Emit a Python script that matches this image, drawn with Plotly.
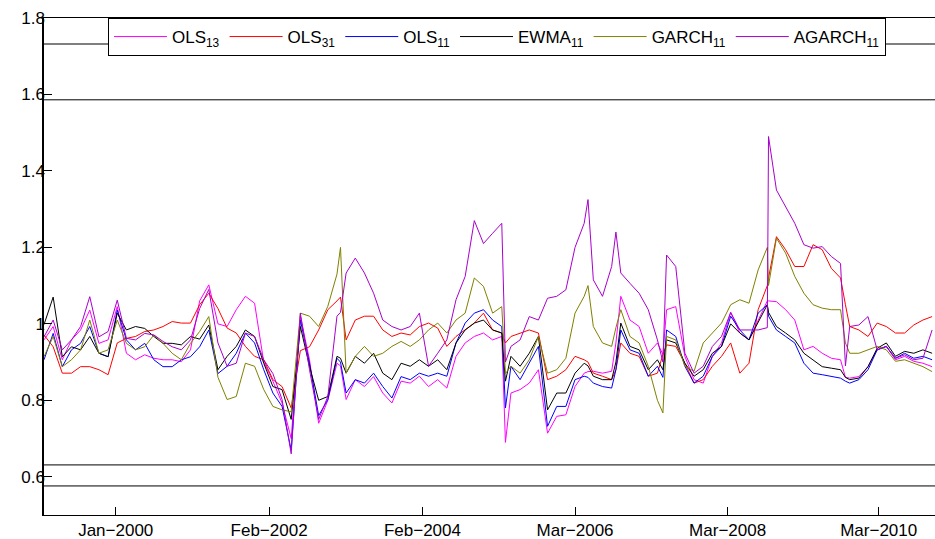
import plotly.graph_objects as go

# observation index (weekly observations)
obs = [0, 6, 12, 18, 24, 30, 36, 42, 48, 54, 60, 66, 72, 78, 84, 90, 96, 102, 108, 114,
       120, 126, 132, 138, 144, 150, 156, 162, 168, 174, 180, 186, 192, 194.3,
       198, 204, 210, 216, 222, 228, 234, 240, 246, 252, 258, 264, 270, 276, 282, 288, 294, 300, 302.4,
       306, 312, 318, 324, 330, 336, 342, 348, 354, 356.5,
       360, 366, 372, 374.8,
       378, 384, 390, 396, 402, 405.6,
       408, 414, 420, 426, 432, 438, 444, 450, 456, 462, 468, 474, 474.8,
       480, 486, 492, 498, 504, 510, 516, 522, 525.2,
       528, 534, 540, 546, 552, 558, 564, 570, 576, 582]

ols13 = [0.958, 0.993, 0.906, 0.958, 0.984, 1.036, 0.949, 0.958, 1.045, 0.923,
         0.906, 0.919, 0.91, 0.906, 0.906, 0.901, 0.932, 1.06, 1.102, 1.0,
         0.993, 1.037, 1.072, 1.054, 0.9, 0.85, 0.793, 0.70, 1.02, 0.906,
         0.74, 0.80, 0.897, 0.89,
         0.802, 0.854, 0.836, 0.862, 0.819, 0.793, 0.85,
         0.845, 0.863, 0.836, 0.854, 0.832, 0.915, 0.95, 0.967, 0.976, 0.958, 0.967, 0.69,
         0.819, 0.828, 0.845, 0.88, 0.714, 0.758, 0.762, 0.836, 0.871, 0.875,
         0.876, 0.871, 0.876, 0.95,
         1.072, 1.01, 0.993, 0.923, 0.95, 0.92,
         1.037, 1.045, 0.915, 0.854, 0.845, 0.915, 0.95, 1.03, 0.976, 0.958, 1.01, 1.06, 1.06,
         1.058, 1.037, 1.01, 0.932, 0.941, 0.923, 0.91, 0.906, 0.86,
         0.858, 0.862, 0.888, 0.932, 0.941, 0.906, 0.915, 0.902, 0.897, 0.888]

ols31 = [0.971, 0.94, 0.871, 0.871, 0.888, 0.888, 0.88, 0.867, 0.95, 0.962,
         0.967, 0.98, 0.984, 0.993, 1.006, 1.002, 1.002, 1.05, 1.08, 1.04,
         0.989, 0.976, 0.941, 0.915, 0.906, 0.854, 0.836, 0.78, 0.93, 0.94,
         0.984, 1.037, 1.06, 1.07,
         0.958, 1.01, 1.02, 1.02, 0.984, 0.967, 0.976,
         0.971, 0.993, 1.002, 0.989, 0.941, 0.967, 0.984, 1.002, 1.028, 0.984, 0.976, 0.95,
         0.967, 0.976, 0.984, 0.976, 0.854, 0.863, 0.88, 0.915, 0.906, 0.9,
         0.871, 0.863, 0.854, 0.88,
         0.95, 0.923, 0.915, 0.863, 0.871, 0.92,
         0.945, 0.941, 0.897, 0.845, 0.854, 0.889, 0.915, 0.95, 0.871, 0.897, 1.037, 1.1, 1.12,
         1.228, 1.194, 1.15, 1.15, 1.207, 1.194, 1.145, 1.12, 1.05,
         0.993, 0.984, 0.967, 1.002, 0.993, 0.976, 0.976, 0.997, 1.01, 1.019]

ols11 = [0.906, 0.975, 0.888, 0.932, 0.949, 0.993, 0.923, 0.914, 1.036, 0.958,
         0.932, 0.949, 0.906, 0.888, 0.888, 0.906, 0.914, 0.94, 0.984, 0.87,
         0.889, 0.923, 0.976, 0.95, 0.88, 0.819, 0.784, 0.67, 1.01, 0.897,
         0.76, 0.802, 0.91, 0.9,
         0.819, 0.854, 0.845, 0.871, 0.836, 0.806, 0.862,
         0.854, 0.871, 0.863, 0.871, 0.863, 0.95, 1.002, 1.028, 1.037, 1.01, 0.993, 0.78,
         0.889, 0.854, 0.897, 0.941, 0.732, 0.784, 0.784, 0.854, 0.863, 0.86,
         0.845, 0.836, 0.832, 0.88,
         0.984, 0.932, 0.923, 0.863, 0.889, 0.86,
         0.984, 0.967, 0.889, 0.845, 0.863, 0.915, 0.941, 1.02, 0.984, 0.958, 1.028, 1.05, 1.02,
         0.984, 0.967, 0.95, 0.897, 0.871, 0.867, 0.862, 0.858, 0.85,
         0.845, 0.854, 0.88, 0.932, 0.941, 0.91, 0.923, 0.91, 0.915, 0.906]

ewma11 = [0.998, 1.07, 0.914, 0.94, 0.932, 0.967, 0.923, 0.914, 1.028, 0.984,
          0.993, 0.988, 0.967, 0.949, 0.949, 0.945, 0.967, 0.96, 0.997, 0.88,
          0.915, 0.941, 0.984, 0.967, 0.897, 0.836, 0.828, 0.75, 0.993, 0.889,
          0.8, 0.81, 0.915, 0.91,
          0.871, 0.915, 0.897, 0.923, 0.871, 0.854, 0.897,
          0.889, 0.906, 0.889, 0.906, 0.88, 0.95, 0.984, 1.002, 1.01, 0.984, 0.976, 0.85,
          0.915, 0.889, 0.923, 0.967, 0.775, 0.819, 0.819, 0.871, 0.897, 0.89,
          0.863, 0.854, 0.854, 0.9,
          1.002, 0.941, 0.932, 0.88, 0.906, 0.88,
          0.958, 0.95, 0.897, 0.863, 0.88, 0.923, 0.941, 1.0, 0.976, 0.958, 1.002, 1.05, 1.03,
          0.993, 0.976, 0.958, 0.923, 0.906, 0.888, 0.884, 0.88, 0.86,
          0.854, 0.858, 0.888, 0.936, 0.95, 0.915, 0.928, 0.923, 0.932, 0.923]

garch11 = [0.914, 0.967, 0.888, 0.906, 0.932, 1.01, 0.923, 0.932, 1.01, 0.949,
           0.932, 0.94, 0.971, 0.949, 0.923, 0.906, 0.949, 0.98, 1.019, 0.86,
           0.802, 0.81, 0.897, 0.889, 0.828, 0.784, 0.775, 0.77, 1.028, 1.02,
           0.993, 1.046, 1.13, 1.2,
           0.871, 0.915, 0.941, 0.915, 0.923, 0.941, 0.954,
           0.941, 0.958, 0.984, 1.002, 0.976, 1.01, 1.028, 1.12, 1.098, 1.028, 1.045, 0.87,
           0.889, 0.871, 0.906, 0.967, 0.871, 0.88, 0.91, 1.028, 1.072, 1.1,
           0.993, 0.95, 0.941, 0.99,
           1.037, 0.967, 0.95, 0.889, 0.80, 0.767,
           0.967, 0.958, 0.889, 0.876, 0.95, 0.976, 1.002, 1.05, 1.063, 1.054, 1.141, 1.2, 1.1,
           1.224, 1.185, 1.124, 1.08, 1.05, 1.041, 1.037, 1.037, 0.95,
           0.923, 0.923, 0.932, 0.941, 0.932, 0.902, 0.906, 0.897, 0.888, 0.875]

agarch11 = [0.966, 1.01, 0.932, 0.958, 0.993, 1.071, 0.966, 0.98, 1.062, 0.962,
            0.958, 0.975, 0.971, 0.954, 0.94, 0.932, 0.958, 1.04, 1.09, 0.95,
            0.889, 0.897, 0.976, 0.967, 0.906, 0.87, 0.802, 0.66, 1.028, 0.88,
            0.75, 0.81, 1.02, 1.03,
            1.133, 1.172, 1.133, 1.08, 1.01, 0.993, 0.984,
            0.993, 1.028, 0.889, 0.923, 0.958, 1.063, 1.124, 1.27, 1.21, 1.237, 1.263, 0.9,
            0.941, 0.958, 1.019, 1.01, 1.067, 1.072, 1.089, 1.2, 1.263, 1.325,
            1.115, 1.072, 1.15, 1.24,
            1.133, 1.106, 1.08, 1.037, 0.958, 0.9,
            1.18, 1.15, 0.923, 0.871, 0.889, 0.941, 0.967, 1.03, 0.984, 0.984, 0.984, 0.99, 1.49,
            1.35, 1.307, 1.263, 1.207, 1.198, 1.202, 1.176, 1.158, 0.89,
            0.993, 0.997, 1.019, 0.932, 0.941, 0.91, 0.919, 0.906, 0.91, 0.984]

series_names = ["OLS<sub>13</sub>", "OLS<sub>31</sub>", "OLS<sub>11</sub>",
                "EWMA<sub>11</sub>", "GARCH<sub>11</sub>", "AGARCH<sub>11</sub>"]
series_values = [ols13, ols31, ols11, ewma11, garch11, agarch11]
series_colors = ["#ff00ff", "#ff0000", "#0000ff", "#000000", "#808000", "#aa00cc"]

tick_pos = [47, 147.5, 248, 348, 448, 547]
tick_labels = ["Jan\u22122000", "Feb\u22122002", "Feb\u22122004",
               "Mar\u22122006", "Mar\u22122008", "Mar\u22122010"]
y_ticks = [0.6, 0.8, 1.0, 1.2, 1.4, 1.6, 1.8]
y_tick_labels = ["0.6", "0.8", "1", "1.2", "1.4", "1.6", "1.8"]
ref_levels = [1.732, 1.586, 0.631, 0.576]

for v in series_values:
    if len(v) != len(obs):
        raise ValueError(f"length mismatch {len(v)} vs {len(obs)}")

fig = go.Figure()
for name, vals, col in zip(series_names, series_values, series_colors):
    fig.add_trace(go.Scatter(x=obs, y=vals, mode="lines", name=name,
                             line=dict(color=col, width=1)))

for lv in ref_levels:
    fig.add_shape(type="line", xref="paper", x0=0, x1=1, yref="y", y0=lv, y1=lv,
                  line=dict(color="black", width=1), layer="below")

font_family = "Liberation Sans, Arial, Helvetica, sans-serif"
fig.update_layout(
    width=935, height=539,
    margin=dict(l=44, r=0, t=18, b=24, autoexpand=False),
    paper_bgcolor="white", plot_bgcolor="white",
    font=dict(family=font_family, size=17, color="black"),
    showlegend=True,
    legend=dict(orientation="h", x=0.0718, y=1, xanchor="left", yanchor="top",
                bgcolor="white", bordercolor="black", borderwidth=1,
                font=dict(size=17), itemwidth=53, tracegroupgap=0),
    xaxis=dict(range=[0, 583.9], showline=True, linecolor="black", linewidth=1,
               mirror=True, ticks="inside", ticklen=8, tickcolor="black",
               tickvals=tick_pos, ticktext=tick_labels, showgrid=False,
               zeroline=False, tickfont=dict(size=17), ticklabelstandoff=0,
               automargin=False),
    yaxis=dict(range=[0.5, 1.8], showline=True, linecolor="black", linewidth=1.5,
               ticks="inside", ticklen=8, tickcolor="black",
               tickvals=y_ticks, ticktext=y_tick_labels, showgrid=False,
               zeroline=False, tickfont=dict(size=17), ticklabelstandoff=-6,
               automargin=False),
)

fig.write_html("out.html")
